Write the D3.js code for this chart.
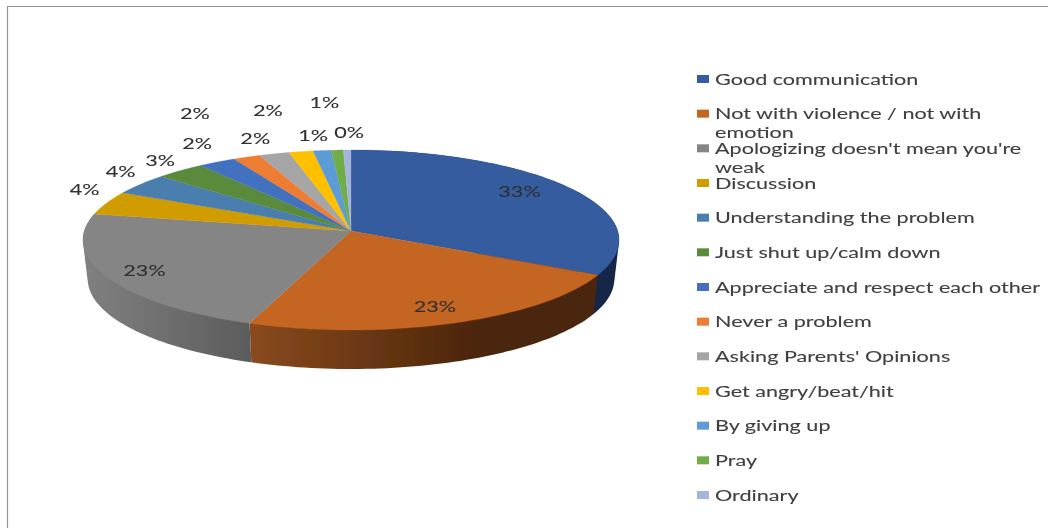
<!DOCTYPE html>
<html>
<head>
<meta charset="utf-8">
<script src="https://cdn.jsdelivr.net/npm/d3@7"></script>
<style>
body { margin: 0; background: #fff; }
svg { display: block; }
text { font-family: Lato, "Noto Sans", sans-serif; font-size: 16px; fill: #404040; stroke: #404040; stroke-width: 0.1px; }
text.pct { fill: #303030; stroke: #303030; }
</style>
</head>
<body>
<svg id="root" width="1048" height="528"></svg>
<script>
// categories and slice shares
const categories = ['Good communication', 'Not with violence / not with emotion', "Apologizing doesn't mean you're weak",
    'Discussion', 'Understanding the problem', 'Just shut up/calm down', 'Appreciate and respect each other',
    'Never a problem', "Asking Parents' Opinions", 'Get angry/beat/hit', 'By giving up', 'Pray', 'Ordinary'];
const shares = [32.8, 22.8, 22.5, 4.3, 3.9, 3.3, 2.5, 1.8, 2.0, 1.6, 1.2, 0.8, 0.5];
const percentLabels = ['33%', '23%', '23%', '4%', '4%', '3%', '2%', '2%', '2%', '2%', '1%', '1%', '0%'];
const colors = ['#355c9f', '#c46524', '#858585', '#d19c00', '#4a7eae', '#5a8a3a', '#4371c0',
    '#ed7d31', '#a5a5a5', '#ffc000', '#5b9bd5', '#70ad47', '#a5b4db'];

// wrapped legend entries
const legendLines = [['Good communication'], ['Not with violence / not with', 'emotion'], ["Apologizing doesn't mean you're", 'weak'],
    ['Discussion'], ['Understanding the problem'], ['Just shut up/calm down'], ['Appreciate and respect each other'],
    ['Never a problem'], ["Asking Parents' Opinions"], ['Get angry/beat/hit'], ['By giving up'], ['Pray'], ['Ordinary']];

// side wall shading of the three front slices, left to right
const sideShades = [['#14264a', '#14264a'], ['#8a4a1e', '#4a2509'], ['#808080', '#5c5c5c']];
const sideRanges = [[597, 618], [250, 480], [85, 250]];

// label offset from the middle of each slice's rim
const labelNudge = [[-49, 3], [-21, -17], [38, -7], [-22, -14], [-20, -14], [-20, -11], [-20, -19],
    [-52, -44], [-19, -16], [-33, -42], [-9, -16], [-13, -48], [2, -18]];

const textStretch = 1.35;
const tilt = 0.1; // perspective of the pie top

const svg = d3.select('#root');

const defs = svg.append('defs');
defs.append('filter').attr('id', 'soft').attr('x', 0).attr('y', 0).attr('width', 1).attr('height', 1)
    .append('feGaussianBlur').attr('stdDeviation', 0.45);

// frame, only top and left are visible
svg.append('path').attr('d', 'M7.5,528V6.5H1048').attr('fill', 'none').attr('stroke', '#969696').attr('stroke-width', 1.2);

const chart = svg.append('g').attr('filter', 'url(#soft)');

// project an angle (clockwise from top) and radius fraction on to the tilted disc
const project = (angle, r, rimA, rimB, apexY) => {
    const u = Math.sin(angle) * r;
    const v = -Math.cos(angle) * r;
    const w = 1 - tilt * v;
    return [351 + rimA * u / w, apexY + rimB * v / w];
};
const topPoint = (angle, r = 1) => project(angle, r, 266.7, 89.1, 231);
const bottomPoint = (angle, r = 1) => project(angle, r, 262, 89.1, 270);

const arcs = d3.pie().sort(null).value(d => d)(shares);
const line = d3.line();
const steps = (a, b) => d3.range(0, 61).map(i => a + (b - a) * i / 60);

// side walls
sideShades.forEach((shade, i) => {
    const grad = defs.append('linearGradient').attr('id', 'side' + i)
        .attr('gradientUnits', 'userSpaceOnUse')
        .attr('x1', sideRanges[i][0]).attr('x2', sideRanges[i][1]).attr('y1', 0).attr('y2', 0);
    grad.append('stop').attr('offset', 0).attr('stop-color', shade[0]);
    grad.append('stop').attr('offset', 1).attr('stop-color', shade[1]);
});

// hull of both rims, the chord it adds is hidden under the top faces
chart.selectAll('path.side').data(arcs.slice(0, 3)).enter().append('path')
    .attr('class', 'side')
    .attr('fill', (d, i) => `url(#side${i})`)
    .attr('d', d => {
        const angles = steps(d.startAngle, d.endAngle);
        return line(d3.polygonHull(angles.map(a => topPoint(a)).concat(angles.map(a => bottomPoint(a))))) + 'Z';
    });

// top faces
chart.selectAll('path.top').data(arcs).enter().append('path')
    .attr('class', 'top')
    .attr('fill', (d, i) => colors[i])
    .attr('stroke', (d, i) => colors[i])
    .attr('stroke-width', 0.3)
    .attr('d', d => line([topPoint(0, 0)].concat(steps(d.startAngle, d.endAngle).map(a => topPoint(a)))) + 'Z');

// percent labels
chart.selectAll('text.pct').data(arcs).enter().append('text')
    .attr('class', 'pct')
    .attr('text-anchor', 'middle')
    .attr('dominant-baseline', 'central')
    .attr('transform', (d, i) => {
        const p = topPoint((d.startAngle + d.endAngle) / 2);
        return `translate(${p[0] + labelNudge[i][0]},${p[1] + labelNudge[i][1]}) scale(${textStretch},1)`;
    })
    .text((d, i) => percentLabels[i]);

// legend
const legendY = d3.scaleLinear().domain([0, categories.length - 1]).range([79, 495]);
const legend = chart.selectAll('g.legend').data(categories).enter().append('g')
    .attr('class', 'legend')
    .attr('transform', (d, i) => `translate(697,${legendY(i)})`);
legend.append('rect').attr('x', 0).attr('y', -4).attr('width', 12).attr('height', 8)
    .attr('fill', (d, i) => colors[i]);
legend.each(function (d, i) {
    d3.select(this).selectAll('text').data(legendLines[i]).enter().append('text')
        .attr('dominant-baseline', 'central')
        .attr('transform', (t, j) => `translate(18,${j * 19 - 0.6}) scale(${textStretch},1)`)
        .text(t => t);
});
</script>
</body>
</html>
